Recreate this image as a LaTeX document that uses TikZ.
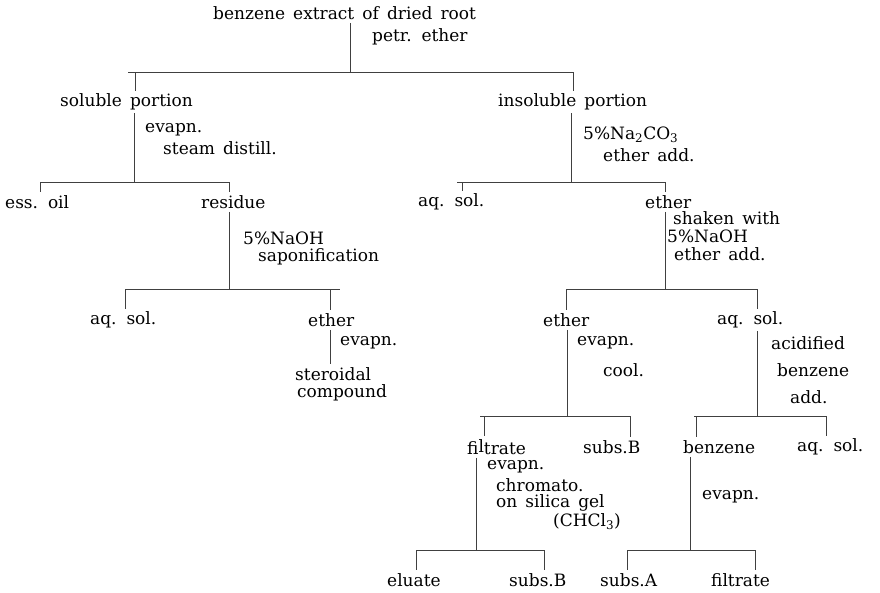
\documentclass[tikz,border=0pt]{standalone}
\usepackage{fontspec}
\setmainfont[WordSpace=1.5]{DejaVu Serif}
\begin{document}
\begin{tikzpicture}[x=1pt,y=-1pt,
  lbl/.style={anchor=west,inner sep=0pt,font=\fontsize{17}{18}\selectfont},
  ln/.style={line width=0.6pt,draw=black!75},
  drop/.style={ln,shorten >=3pt},
  stem/.style={ln,shorten <=3pt}]
\useasboundingbox (0,0) rectangle (880,592);
% ---- texts ----
\node[lbl] (root) at (213,13) {benzene extract of dried root};
\node[lbl] (petr) at (372,37) {petr. ether};
\node[lbl] (sol) at (60,102) {soluble portion};
\node[lbl] (insol) at (498,102) {insoluble portion};
\node[lbl] (s1a) at (145,130) {evapn.};
\node[lbl] (s1b) at (163,148) {steam distill.};
\node[lbl] (i1a) at (583,135) {5\%Na\textsubscript{2}CO\textsubscript{3}};
\node[lbl] (i1b) at (603,155) {ether add.};
\node[lbl] (ess) at (5,202) {ess. oil};
\node[lbl] (res) at (201,202) {residue};
\node[lbl] (aq1) at (418,202) {aq. sol.};
\node[lbl] (eth1) at (645,202) {ether};
\node[lbl] (r1a) at (243,238) {5\%NaOH};
\node[lbl] (r1b) at (258,257) {saponification};
\node[lbl] (e1a) at (673,218) {shaken with};
\node[lbl] (e1b) at (667,236) {5\%NaOH};
\node[lbl] (e1c) at (674,254) {ether add.};
\node[lbl] (aq2) at (90,320) {aq. sol.};
\node[lbl] (eth2) at (308,320) {ether};
\node[lbl] (eth3) at (543,320) {ether};
\node[lbl] (aq3) at (717,320) {aq. sol.};
\node[lbl] (ev2) at (340,343) {evapn.};
\node[lbl] (ster) at (295,374) {steroidal};
\node[lbl] (comp) at (297,393) {compound};
\node[lbl] (ev3) at (577,343) {evapn.};
\node[lbl] (cool) at (603,370) {cool.};
\node[lbl] (acid) at (771,343) {acidified};
\node[lbl] (benz1) at (777,370) {benzene};
\node[lbl] (add) at (790,397) {add.};
\node[lbl] (filt) at (467,447) {fi\raisebox{2pt}{l}trate};
\node[lbl] (subsB1) at (583,447) {subs.B};
\node[lbl] (benz2) at (683,447) {benzene};
\node[lbl] (aq4) at (797,447) {aq. sol.};
\node[lbl] (f1) at (487,467) {evapn.};
\node[lbl] (f2) at (496,485) {chromato.};
\node[lbl] (f3) at (496,503) {on silica gel};
\node[lbl] (f4) at (553,522) {(CHCl\textsubscript{3})};
\node[lbl] (bev) at (702,497) {evapn.};
\node[lbl] (elu) at (387,580) {eluate};
\node[lbl] (subsB2) at (509,580) {subs.B};
\node[lbl] (subsA) at (600,580) {subs.A};
\node[lbl] (filt2) at (711,580) {filtrate};
% ---- junction coordinates ----
\coordinate (j1) at (350,72);  \coordinate (j1l) at (135,72);  \coordinate (j1r) at (573,72);
\coordinate (j2) at (134,182); \coordinate (j2l) at (40,182);  \coordinate (j2r) at (229,182);
\coordinate (j3) at (571,182); \coordinate (j3l) at (462,182); \coordinate (j3r) at (665,182);
\coordinate (j4) at (229,289); \coordinate (j4l) at (125,289); \coordinate (j4r) at (330,289);
\coordinate (j5) at (665,289); \coordinate (j5l) at (566,289); \coordinate (j5r) at (757,289);
\coordinate (j6) at (567,416); \coordinate (j6l) at (484,416); \coordinate (j6r) at (630,416);
\coordinate (j7) at (757,416); \coordinate (j7l) at (696,416); \coordinate (j7r) at (826,416);
\coordinate (j8) at (476,550); \coordinate (j8l) at (416,550); \coordinate (j8r) at (544,550);
\coordinate (j9) at (690,550); \coordinate (j9l) at (627,550); \coordinate (j9r) at (755,550);
% ---- connectors ----
\draw[stem] (root.south -| j1) -- (j1);
\draw[ln] ([xshift=-7pt]j1l) -- (j1r);
\draw[drop] (j1l) -- (j1l |- sol.north);
\draw[drop] (j1r) -- (j1r |- insol.north);

\draw[stem] (sol.south -| j2) -- (j2);
\draw[ln] (j2l) -- (j2r);
\draw[drop] (j2l) -- (j2l |- ess.north);
\draw[drop] (j2r) -- (j2r |- res.north);

\draw[stem] (insol.south -| j3) -- (j3);
\draw[ln] ([xshift=-5pt]j3l) -- (j3r);
\draw[drop] (j3l) -- (j3l |- aq1.north);
\draw[drop] (j3r) -- (j3r |- eth1.north);

\draw[stem] (res.south -| j4) -- (j4);
\draw[ln] (j4l) -- ([xshift=10pt]j4r);
\draw[drop] (j4l) -- (j4l |- aq2.north);
\draw[drop] (j4r) -- (j4r |- eth2.north);

\draw[stem] (eth1.south -| j5) -- (j5);
\draw[ln] (j5l) -- (j5r);
\draw[drop] (j5l) -- (j5l |- eth3.north);
\draw[drop] (j5r) -- (j5r |- aq3.north);

\draw[stem,shorten >=3pt] (eth2.south -| j4r) -- (j4r |- ster.north);

\draw[stem] (eth3.south -| j6) -- (j6);
\draw[ln] ([xshift=-4pt]j6l) -- (j6r);
\draw[drop] (j6l) -- (j6l |- filt.north);
\draw[drop] (j6r) -- (j6r |- subsB1.north);

\draw[stem] (aq3.south -| j7) -- (j7);
\draw[ln] ([xshift=-2pt]j7l) -- (j7r);
\draw[drop] (j7l) -- (j7l |- benz2.north);
\draw[drop] (j7r) -- (j7r |- aq4.north);

\draw[stem] (filt.south -| j8) -- (j8);
\draw[ln] (j8l) -- (j8r);
\draw[drop] (j8l) -- (j8l |- elu.north);
\draw[drop] (j8r) -- (j8r |- subsB2.north);

\draw[stem] (benz2.south -| j9) -- (j9);
\draw[ln] (j9l) -- (j9r);
\draw[drop] (j9l) -- (j9l |- subsA.north);
\draw[drop] (j9r) -- (j9r |- filt2.north);
\end{tikzpicture}
\end{document}
